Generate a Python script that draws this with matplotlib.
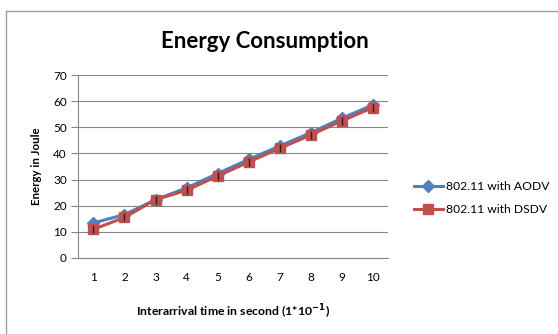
import matplotlib
matplotlib.use("Agg")
import matplotlib.pyplot as plt
from matplotlib.lines import Line2D

plt.rcParams['font.family'] = ['Lato', 'DejaVu Sans']

categories = [1, 2, 3, 4, 5, 6, 7, 8, 9, 10]
aodv = [13.4, 16.6, 22.3, 26.8, 32.3, 37.7, 42.8, 47.9, 53.4, 58.5]
dsdv = [11.0, 15.5, 22.3, 25.9, 31.3, 36.7, 41.9, 47.0, 52.4, 57.5]
yticks = [0, 10, 20, 30, 40, 50, 60, 70]

blue = "#4F81BD"
red = "#C0504D"

fig = plt.figure(figsize=(5.58, 3.34), dpi=100)
ax = fig.add_axes([78/558, 1-258/334, 310/558, 183/334])

ax.plot(categories, aodv, color=blue, lw=2.2, marker="D", ms=6,
        label="802.11 with AODV", zorder=3)
ax.plot(categories, dsdv, color=red, lw=2.2, marker="s", ms=7.5,
        label="802.11 with DSDV", zorder=4)
# little dark tick in the middle of each marker
ax.plot(categories, dsdv, ls="none", marker="|", ms=6, mew=1, color="#222222", zorder=5)

ax.set_xlim(0.5, 10.5)
ax.set_ylim(0, 70)
ax.set_yticks(yticks)
ax.set_xticks(categories)
ax.yaxis.grid(True, color="#868686", lw=0.8)
ax.set_axisbelow(True)
for s in ["top", "right"]:
    ax.spines[s].set_visible(False)
ax.spines["left"].set_color("#868686")
ax.spines["bottom"].set_color("#868686")
ax.tick_params(axis="y", length=5, color="#868686", labelsize=8.5, pad=3)
ax.tick_params(axis="x", length=0, labelsize=8.5, pad=10)

ax.set_ylabel("Energy in Joule", fontsize=8.3, fontweight="bold", labelpad=8)
ax.set_xlabel("Interarrival time in second (1*10$^{\\mathbf{-1}}$)", fontsize=8.8,
              fontweight="bold", labelpad=14)

fig.text(265/558, 1-42/334, "Energy Consumption", fontsize=16, fontweight="bold",
         ha="center", va="center")

fig.legend(loc="center left", bbox_to_anchor=(403/558, 1-198/334), frameon=False,
           fontsize=8.7, handlelength=2.4, handletextpad=0.3, labelspacing=1.0)

# outer chart border (left and top edges visible)
fig.add_artist(Line2D([6/558, 6/558], [0, 1-11/334], transform=fig.transFigure,
                      color="#A0A0A0", lw=1))
fig.add_artist(Line2D([6/558, 1], [1-11/334, 1-11/334], transform=fig.transFigure,
                      color="#A0A0A0", lw=1))

fig.savefig("out.png", dpi=100)
